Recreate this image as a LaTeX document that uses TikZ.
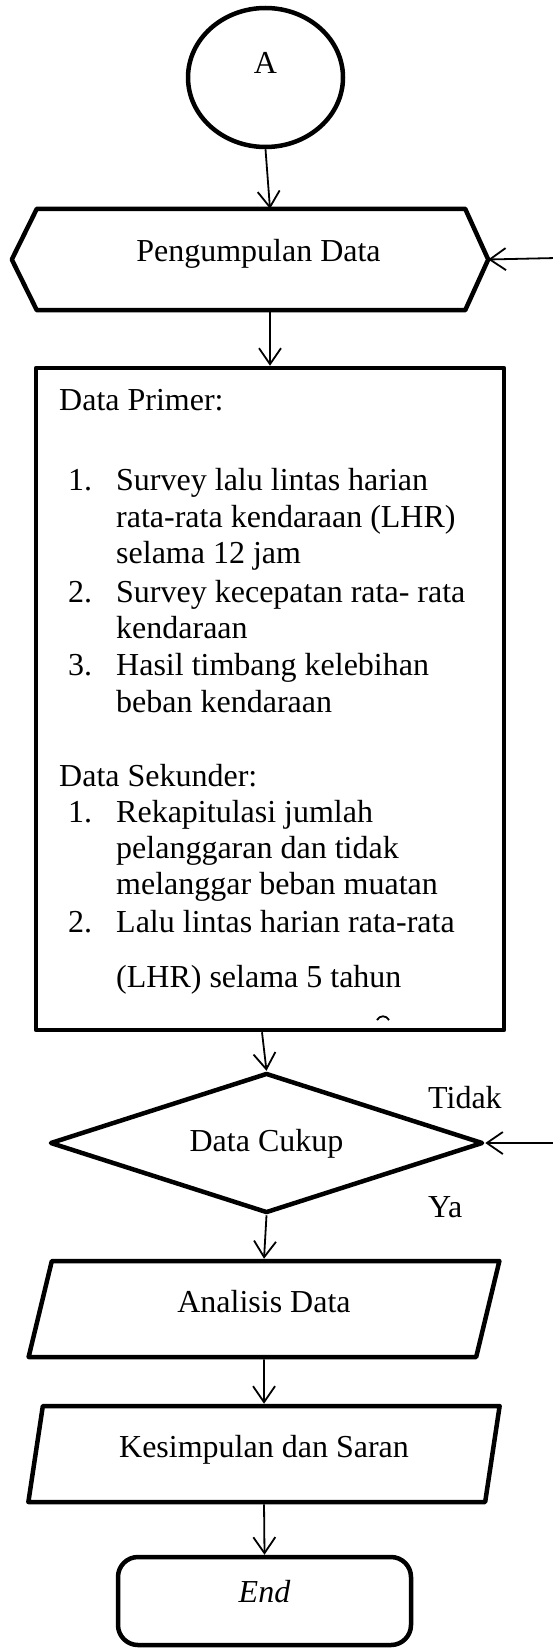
\documentclass[tikz,border=0pt]{standalone}
\usepackage{fontspec}
\setmainfont{Liberation Serif}
\usetikzlibrary{arrows.meta, shapes.geometric}

\begin{document}
\begin{tikzpicture}[x=1pt, y=-1pt,
  every node/.style={font=\fontsize{32}{36.7}\selectfont, inner sep=0pt},
  bentuk/.style={draw, line width=4.5pt, line join=round},
  jajar/.style={bentuk, trapezium, trapezium left angle=76, trapezium right angle=104,
    trapezium stretches=true, minimum width=472pt, minimum height=96pt},
  panah/.style={-{Straight Barb[length=16pt,width=22pt]}, line width=1.8pt},
  isi/.style={text height=22pt, text depth=#1}]
  \useasboundingbox (0,0) rectangle (553,1648);
  \clip (0,0) rectangle (553,1648);
  % simbol alur
  \node[bentuk, ellipse, minimum width=155pt, minimum height=139pt, isi=29pt] (mulai) at (265.5,77.5) {A};
  \node[minimum width=428pt, minimum height=101pt, isi=19pt] (kumpul) at (251,259.5) {\hspace*{15pt}Pengumpulan Data};
  \draw[bentuk] ([xshift=-25pt]kumpul.west) -- (kumpul.north west) -- (kumpul.north east)
    -- ([xshift=23pt]kumpul.east) -- (kumpul.south east) -- (kumpul.south west) -- cycle;
  \node[bentuk, minimum width=468pt, minimum height=662pt] (data) at (270,699) {};
  \node[bentuk, diamond, aspect=3.1, minimum width=433pt, minimum height=140pt, isi=6pt] (cukup) at (266.5,1143) {Data Cukup};
  \node[jajar, isi=16pt] (analisis) at (264,1309) {Analisis Data};
  \node[jajar, isi=16pt] (simpulan) at (264,1454) {Kesimpulan dan Saran};
  \node[bentuk, rounded corners=20pt, minimum width=293pt, minimum height=88pt, isi=20pt,
    font=\fontsize{32}{36.7}\selectfont\itshape] (akhir) at (264.5,1601) {End};
  % isi kotak data
  \foreach \y/\teks [count=\i] in {410/Data Primer:, 786/Data Sekunder:}
    \node[anchor=base west] (judul\i) at (59,\y) {\teks};
  \foreach \y/\nomor [count=\i] in {490/1., 602/2., 675/3., 822/1., 932/2.}
    \node[anchor=base west] (nomor\i) at (68,\y) {\nomor};
  \foreach \y/\teks [count=\i] in {490/Survey lalu lintas harian, 527/rata-rata kendaraan (LHR),
      563/selama 12 jam, 602/Survey kecepatan rata- rata, 638/kendaraan, 675/Hasil timbang kelebihan,
      712/beban kendaraan, 822/Rekapitulasi jumlah, 858/pelanggaran dan tidak,
      894/melanggar beban muatan, 932/Lalu lintas harian rata-rata, 987/(LHR) selama 5 tahun}
    \node[anchor=base west] (baris\i) at (116,\y) {\teks};
  \draw[line width=1.8pt] (377,1020) .. controls (380,1015) and (386,1015) .. (389,1020);
  \node[anchor=base west] (tidak) at (428,1108) {Tidak};
  \node[anchor=base west] (ya) at (428,1217) {Ya};
  % panah
  \coordinate (balik1) at (556,258);
  \coordinate (balik2) at (556,1143);
  \draw[panah] (mulai.south) -- (kumpul.north -| data.north);
  \draw[panah] (kumpul.south -| data.north) -- (data.north);
  \draw[panah] ([xshift=-8pt]data.south) -- (cukup.north);
  \draw[panah] (cukup.south) -- (analisis.north);
  \draw[panah] (analisis.south) -- (simpulan.north);
  \draw[panah] (simpulan.south) -- (akhir.north);
  \draw[panah] (balik1) -- ([xshift=23pt]kumpul.east);
  \draw[panah] (balik2) -- (cukup.east);
\end{tikzpicture}
\end{document}
